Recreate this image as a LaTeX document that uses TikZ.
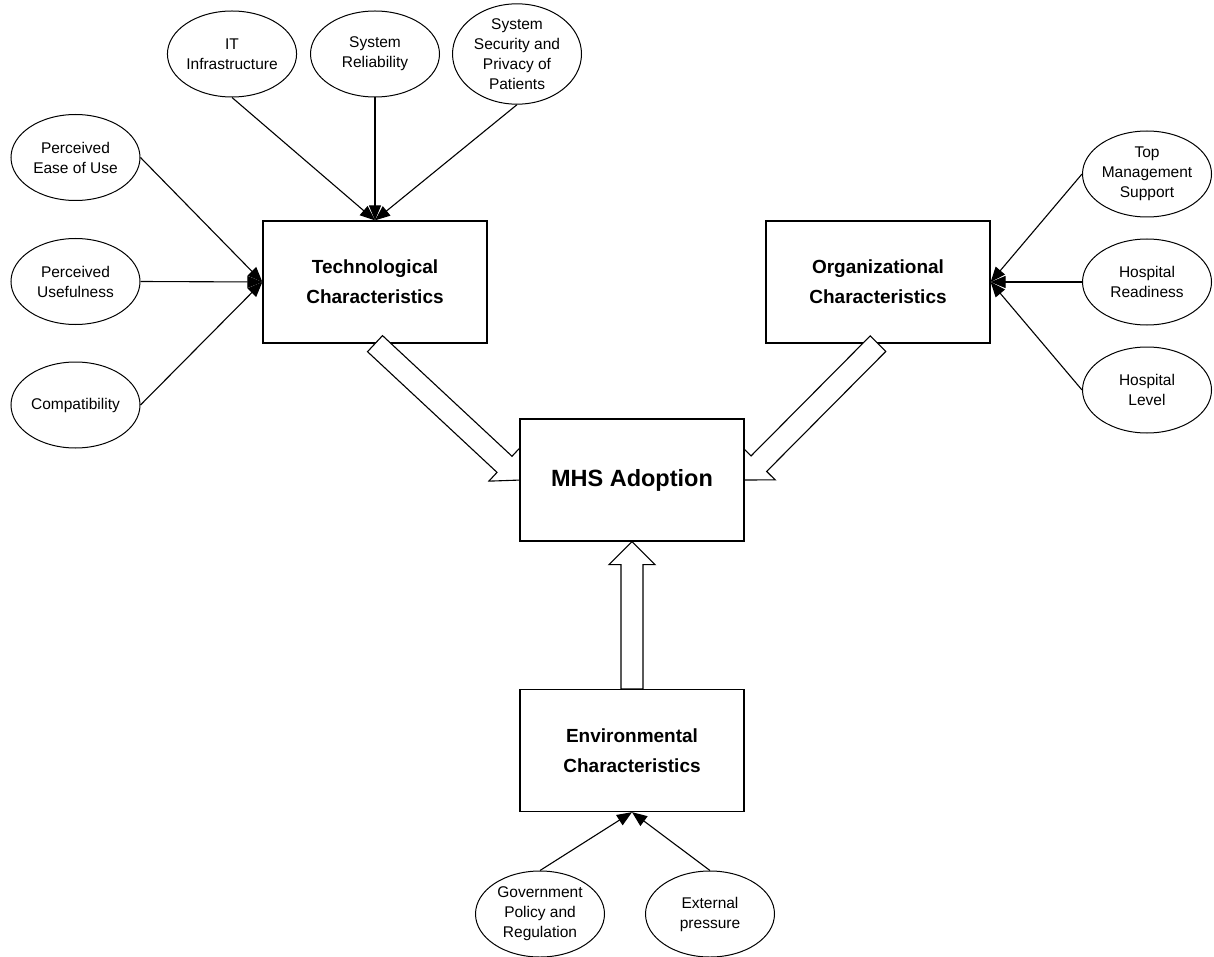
\documentclass[tikz,border=0pt]{standalone}
\usepackage{fontspec}
\setmainfont{Liberation Sans}
\usetikzlibrary{arrows.meta,calc,shapes.geometric}
\pgfdeclarelayer{front}
\pgfsetlayers{main,front}

% hollow block arrow from #1 to #2
\newcommand\fatarrow[2]{%
  \coordinate (fa-h) at ($(#2)!23pt!(#1)$);
  \draw[hollow] ($(#1)!11pt!90:(#2)$) -- ($(fa-h)!11pt!90:(#2)$)
    -- ($(fa-h)!23pt!90:(#2)$) -- (#2) -- ($(fa-h)!23pt!-90:(#2)$)
    -- ($(fa-h)!11pt!-90:(#2)$) -- ($(#1)!11pt!-90:(#2)$) -- cycle;}

\begin{document}
\begin{tikzpicture}[x=1pt,y=-1pt,
  factor/.style={ellipse, draw, line width=1pt, minimum width=129pt,
    minimum height=86pt, inner sep=0pt, align=center, fill=white,
    font=\fontsize{15.5}{20}\selectfont},
  construct/.style={rectangle, draw, line width=1.3pt, minimum width=224pt,
    minimum height=122pt, align=center, fill=white,
    font=\fontsize{19}{30}\selectfont\bfseries},
  link/.style={line width=1.1pt, -{Triangle[length=15pt,width=12pt]}},
  hollow/.style={draw, line width=1.1pt, fill=white, line join=miter}]

\useasboundingbox (0,0) rectangle (1214,957);

% constructs
\node[construct] (tech) at (375,282) {Technological\\Characteristics};
\node[construct] (org) at (878,282) {Organizational\\Characteristics};
\node[construct] (env) at (632,750.5) {Environmental\\Characteristics};
\begin{pgfonlayer}{front}
\node[construct, font=\fontsize{23.5}{28}\selectfont\bfseries] (mhs) at (632,480) {MHS Adoption};
\end{pgfonlayer}

% technological factors
\node[factor] (it)  at (232,54) {IT\\Infrastructure};
\node[factor] (rel) at (375,54) {System\\Reliability};
\node[factor] (sec) at (517,54) {System\\Security and\\Privacy of\\Patients};
\node[factor] (peou) at (75.5,157.5) {Perceived\\Ease of Use};
\node[factor] (pu)   at (75.5,281.5) {Perceived\\Usefulness};
\node[factor] (comp) at (75.5,405) {Compatibility};

% organizational factors
\node[factor] (tms) at (1147,174) {Top\\Management\\Support};
\node[factor] (hr)  at (1147,282) {Hospital\\Readiness};
\node[factor] (hl)  at (1147,390) {Hospital\\Level};

% environmental factors
\node[factor] (gov) at (540,914) {Government\\Policy and\\Regulation};
\node[factor] (ext) at (710,914) {External\\pressure};

% factor links
\draw[link] (it.south) -- (tech.north);
\draw[link] (rel.south) -- (tech.north);
\draw[link] (sec.south) -- (tech.north);
\draw[link] (peou.east) -- (tech.west);
\draw[link] (pu.east) -- (tech.west);
\draw[link] (comp.east) -- (tech.west);
\draw[link] (tms.west) -- (org.east);
\draw[link] (hr.west) -- (org.east);
\draw[link] (hl.west) -- (org.east);
\draw[link] (gov.north) -- (env.south);
\draw[link] (ext.north) -- (env.south);

% block arrows into adoption
\coordinate (mhsW) at ($(mhs.west)+(2,0)$);
\coordinate (mhsE) at ($(mhs.east)+(-2,0)$);
\fatarrow{tech.south}{mhsW}
\fatarrow{org.south}{mhsE}
\fatarrow{env.north}{mhs.south}
\end{tikzpicture}
\end{document}
